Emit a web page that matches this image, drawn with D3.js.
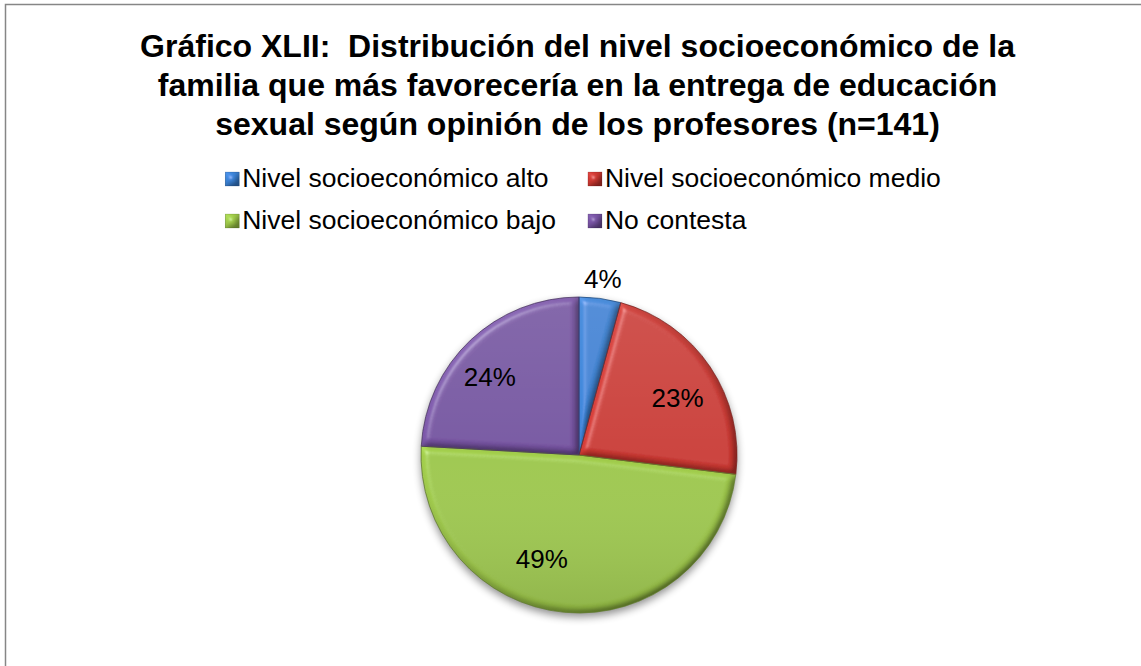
<!DOCTYPE html>
<html>
<head>
<meta charset="utf-8">
<script src="https://cdn.jsdelivr.net/npm/d3@7"></script>
<style>
  html, body { margin: 0; padding: 0; background: #fff; }
  svg { display: block; }
  text { font-family: "Liberation Sans", Arial, sans-serif; }
</style>
</head>
<body>
<svg id="chart" width="1141" height="666"></svg>
<script>
// Respuestas de los profesores (n = 141)
const categories = [
  "Nivel socioeconómico alto",
  "Nivel socioeconómico medio",
  "Nivel socioeconómico bajo",
  "No contesta"
];
const counts = [6, 32, 69, 34];
const percentLabels = ["4%", "23%", "49%", "24%"];
const colors = ["#3a80d2", "#c93731", "#9cc648", "#7552a0"];
const titleLines = [
  "Gráfico XLII:  Distribución del nivel socioeconómico de la",
  "familia que más favorecería en la entrega de educación",
  "sexual según opinión de los profesores (n=141)"
];

const W = 1141, H = 666;
const svg = d3.select("#chart");
const defs = svg.append("defs");

// Bevel: light from the upper left over a blurred alpha height map,
// scaled so that flat areas keep their own colour
const elev = 55;
const bevel = defs.append("filter").attr("id", "bevel")
  .attr("x", "-5%").attr("y", "-5%").attr("width", "110%").attr("height", "110%");
bevel.append("feGaussianBlur").attr("in", "SourceAlpha").attr("stdDeviation", 3.5).attr("result", "blur");
const diff = bevel.append("feDiffuseLighting").attr("in", "blur").attr("surfaceScale", 4)
  .attr("diffuseConstant", 1).attr("lighting-color", "#ffffff").attr("result", "diff");
diff.append("feDistantLight").attr("azimuth", 225).attr("elevation", elev);
const spec = bevel.append("feSpecularLighting").attr("in", "blur").attr("surfaceScale", 4)
  .attr("specularConstant", 0.6).attr("specularExponent", 45).attr("lighting-color", "#ffffff").attr("result", "spec");
spec.append("feDistantLight").attr("azimuth", 225).attr("elevation", elev);
bevel.append("feComposite").attr("in", "SourceGraphic").attr("in2", "diff")
  .attr("operator", "arithmetic").attr("k1", 1 / Math.sin(elev * Math.PI / 180))
  .attr("k2", 0).attr("k3", 0).attr("k4", 0).attr("result", "lit");
bevel.append("feComposite").attr("in", "spec").attr("in2", "SourceAlpha").attr("operator", "in").attr("result", "specIn");
bevel.append("feComposite").attr("in", "lit").attr("in2", "specIn")
  .attr("operator", "arithmetic").attr("k1", 0).attr("k2", 1).attr("k3", 0.3).attr("k4", 0).attr("result", "shaded");
bevel.append("feComposite").attr("in", "shaded").attr("in2", "SourceAlpha").attr("operator", "in");

// Soft shadow under the pie
const shadow = defs.append("filter").attr("id", "shadow")
  .attr("x", "-20%").attr("y", "-20%").attr("width", "140%").attr("height", "140%");
shadow.append("feGaussianBlur").attr("in", "SourceAlpha").attr("stdDeviation", 4).attr("result", "b");
shadow.append("feOffset").attr("in", "b").attr("dx", 0).attr("dy", 4).attr("result", "o");
shadow.append("feComponentTransfer").attr("in", "o")
  .append("feFuncA").attr("type", "linear").attr("slope", 0.45);

// Top-to-bottom shading across the pie face
const shade = defs.append("linearGradient").attr("id", "shade")
  .attr("x1", 0).attr("y1", 0).attr("x2", 0).attr("y2", 1);
shade.append("stop").attr("offset", 0).attr("stop-color", "#fff").attr("stop-opacity", 0.08);
shade.append("stop").attr("offset", 0.5).attr("stop-color", "#fff").attr("stop-opacity", 0);
shade.append("stop").attr("offset", 1).attr("stop-color", "#000").attr("stop-opacity", 0.1);

// Chart frame
svg.append("rect")
  .attr("x", 5.5).attr("y", 4.5).attr("width", W + 10).attr("height", H + 10)
  .attr("fill", "#fff").attr("stroke", "#868686").attr("stroke-width", 1.5);

// Title
const centerX = 577.5;
svg.append("g").selectAll("text").data(titleLines).join("text")
  .attr("x", centerX)
  .attr("y", (d, i) => 57 + i * 39)
  .attr("text-anchor", "middle")
  .attr("font-size", 32)
  .attr("font-weight", "bold")
  .attr("fill", "#000")
  .attr("xml:space", "preserve")
  .style("white-space", "pre")
  .text(d => d);

// Legend: two columns, two rows
const color = d3.scaleOrdinal().domain(categories).range(colors);
const legend = svg.append("g");
const legendFont = 26.5, marker = 14, markerGap = 3, colGap = 32;
const items = legend.selectAll("g").data(categories).join("g");
items.append("rect")
  .attr("width", marker).attr("height", marker)
  .attr("fill", d => color(d))
  .attr("stroke", d => d3.color(color(d)).darker(0.8))
  .attr("stroke-width", 0.6)
  .attr("filter", "url(#bevel)");
items.append("text")
  .attr("x", marker + markerGap)
  .attr("y", marker + 1)
  .attr("font-size", legendFont)
  .attr("fill", "#000")
  .text(d => d);
const widths = [];
items.each(function () { widths.push(d3.select(this).select("text").node().getComputedTextLength()); });
const col1W = marker + markerGap + Math.max(widths[0], widths[2]);
const col2W = marker + markerGap + Math.max(widths[1], widths[3]);
const legendW = col1W + colGap + col2W;
const legendX = 583 - legendW / 2;
const rowY = [172, 214];
items.attr("transform", (d, i) => {
  const col = i % 2, row = Math.floor(i / 2);
  const x = legendX + (col ? col1W + colGap : 0);
  return `translate(${x},${rowY[row]})`;
});

// Pie
const cx = 579, cy = 455, R = 158;
const pie = d3.pie().sort(null).value(d => d.value);
const arcs = pie(categories.map((c, i) => ({ name: c, value: counts[i], label: percentLabels[i] })));
const arc = d3.arc().innerRadius(0).outerRadius(R);

const pieG = svg.append("g").attr("transform", `translate(${cx},${cy})`);
pieG.append("circle").attr("r", R).attr("fill", "#888").attr("filter", "url(#shadow)");
pieG.selectAll("path.slice").data(arcs).join("path")
  .attr("class", "slice")
  .attr("d", arc)
  .attr("fill", d => color(d.data.name))
  .attr("filter", "url(#bevel)");
pieG.append("circle").attr("r", R).attr("fill", "url(#shade)");
pieG.selectAll("path.edge").data(arcs).join("path")
  .attr("class", "edge")
  .attr("d", arc)
  .attr("fill", "none")
  .attr("stroke", d => d3.color(color(d.data.name)).darker(1.3))
  .attr("stroke-width", 0.8);

// Percentage labels: small slices outside, others inside
const total = d3.sum(counts);
const labelNudge = [[0, 0], [4, 6], [-27, -9], [-11, 5]];
const labelArcIn = d3.arc().innerRadius(R * 0.72).outerRadius(R * 0.72);
const labelArcOut = d3.arc().innerRadius(R + 20).outerRadius(R + 20);
pieG.selectAll("text").data(arcs).join("text")
  .attr("transform", (d, i) => {
    const small = d.data.value / total < 0.08;
    const [x, y] = (small ? labelArcOut : labelArcIn).centroid(d);
    return `translate(${x + labelNudge[i][0]},${y + labelNudge[i][1]})`;
  })
  .attr("text-anchor", "middle")
  .attr("dy", "0.35em")
  .attr("font-size", 26)
  .attr("fill", "#000")
  .text(d => d.data.label);
</script>
</body>
</html>
